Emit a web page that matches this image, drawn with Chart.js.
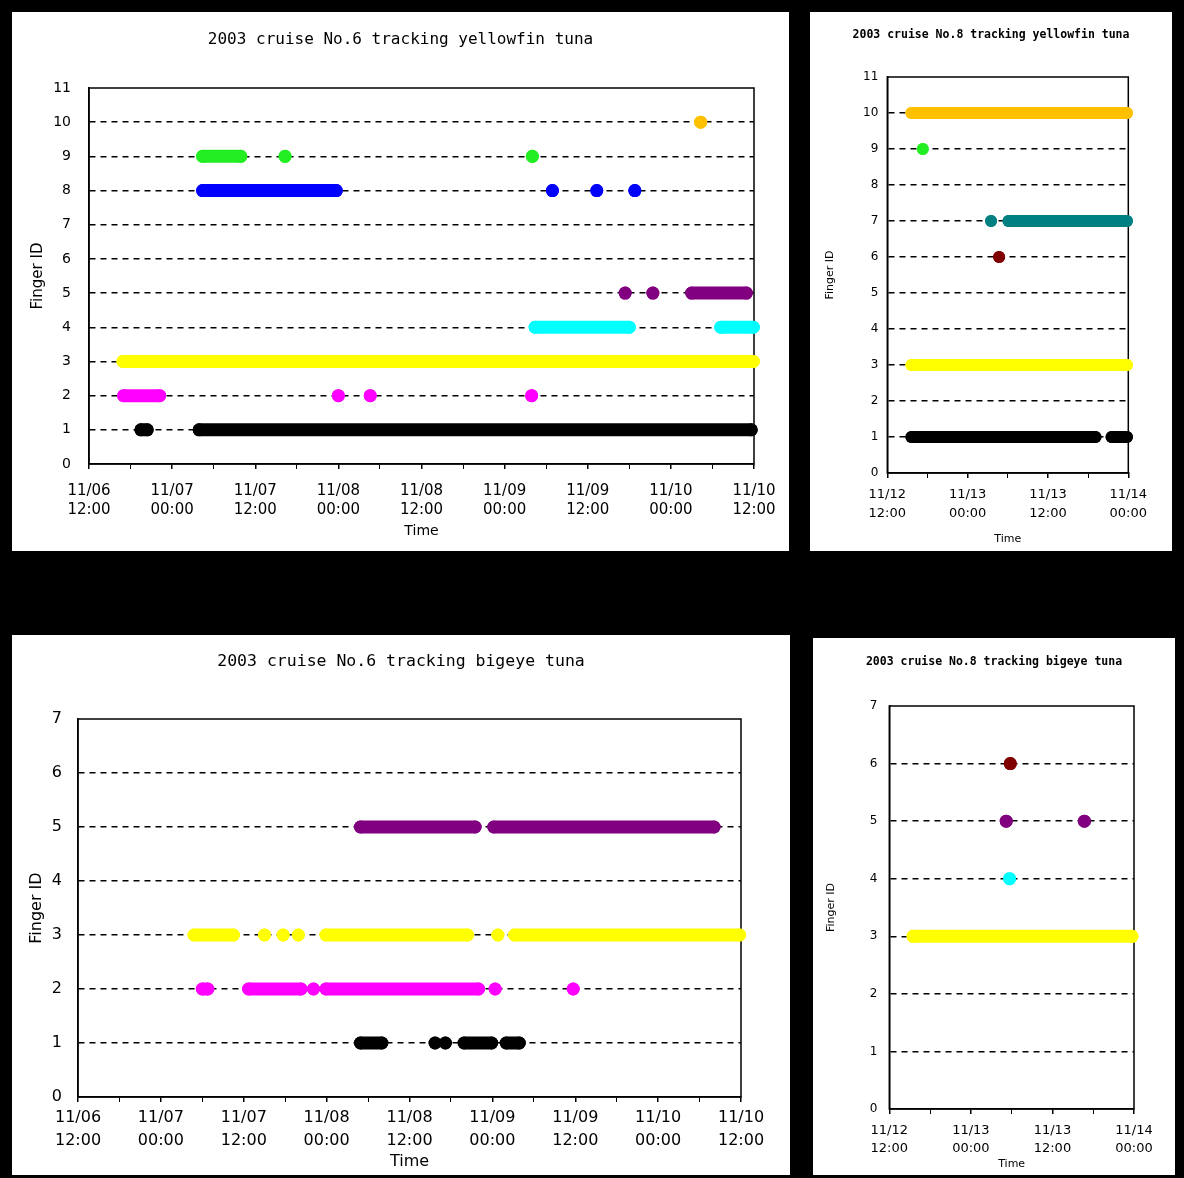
<!DOCTYPE html>
<html>
<head>
<meta charset="utf-8">
<script src="https://cdn.jsdelivr.net/npm/chart.js@4.4.0/dist/chart.umd.min.js"></script>
<style>
  body { margin: 0; background: #000; width: 1184px; height: 1178px; position: relative; overflow: hidden; }
  .panel { position: absolute; background: #fff; }
  canvas { display: block; }
</style>
</head>
<body>
<div class="panel" style="left:12px;top:12px;width:777px;height:539px"><canvas id="yf6" width="777" height="539"></canvas></div>
<div class="panel" style="left:810px;top:12px;width:362px;height:539px"><canvas id="yf8" width="362" height="539"></canvas></div>
<div class="panel" style="left:12px;top:635px;width:778px;height:540px"><canvas id="be6" width="778" height="540"></canvas></div>
<div class="panel" style="left:813px;top:638px;width:362px;height:537px"><canvas id="be8" width="362" height="537"></canvas></div>
<script>
// hours since 11/06 12:00 (cruise No.6) or 11/12 12:00 (cruise No.8)
// each entry is one detection run [first, last]; a single detection has first == last

// cruise No.6, yellowfin
const yf6Finger1 = [[7.5, 8.4], [15.9, 95.6]];
const yf6Finger2 = [[5.0, 10.2], [36.0, 36.0], [40.6, 40.6], [63.9, 63.9]];
const yf6Finger3 = [[4.9, 95.9]];
const yf6Finger4 = [[64.4, 78.0], [91.2, 95.9]];
const yf6Finger5 = [[77.4, 77.4], [81.4, 81.4], [87.0, 94.9]];
const yf6Finger8 = [[16.4, 35.7], [66.9, 66.9], [73.3, 73.3], [78.8, 78.8]];
const yf6Finger9 = [[16.4, 21.9], [28.3, 28.3], [64.0, 64.0]];
const yf6Finger10 = [[88.3, 88.3]];

// cruise No.8, yellowfin
const yf8Finger1 = [[3.6, 31.1], [33.5, 35.8]];
const yf8Finger3 = [[3.6, 35.8]];
const yf8Finger6 = [[16.7, 16.7]];
const yf8Finger7 = [[15.5, 15.5], [18.1, 35.8]];
const yf8Finger9 = [[5.3, 5.3]];
const yf8Finger10 = [[3.6, 35.8]];

// cruise No.6, bigeye
const be6Finger1 = [[40.9, 44.0], [51.7, 51.7], [53.2, 53.2], [55.9, 59.9], [62.0, 63.9]];
const be6Finger2 = [[18.0, 18.8], [24.7, 32.3], [34.1, 34.1], [35.9, 58.0], [60.4, 60.4], [71.7, 71.7]];
const be6Finger3 = [[16.8, 22.5], [27.0, 27.0], [29.7, 29.7], [31.9, 31.9], [35.9, 56.4], [60.8, 60.8], [63.2, 95.8]];
const be6Finger5 = [[40.9, 57.5], [60.2, 92.1]];

// cruise No.8, bigeye
const be8Finger3 = [[3.5, 35.7]];
const be8Finger4 = [[17.7, 17.7]];
const be8Finger5 = [[17.2, 17.2], [28.7, 28.7]];
const be8Finger6 = [[17.8, 17.8]];

const fingerColors = {
  1: '#000000', 2: '#ff00ff', 3: '#ffff00', 4: '#00ffff', 5: '#800080',
  6: '#800000', 7: '#008080', 8: '#0000ff', 9: '#22ee22', 10: '#ffc000'
};

const SANS = 'DejaVu Sans';
const MONO = 'DejaVu Sans Mono';
Chart.defaults.font.family = SANS;
Chart.defaults.color = '#000';

function pad2(n) { return String(n).padStart(2, '0'); }

function timeLabel(startDay, hours) {
  const t = 12 + hours;
  const day = startDay + Math.floor(t / 24);
  return ['11/' + pad2(day), pad2(t % 24) + ':00'];
}

function runsToPoints(finger, runs) {
  const pts = [];
  runs.forEach((r, i) => {
    if (i > 0) pts.push({ x: r[0], y: null });
    pts.push({ x: r[0], y: finger });
    if (r[1] !== r[0]) pts.push({ x: r[1], y: finger });
  });
  return pts;
}

// box round the plot area
const frame = {
  id: 'frame',
  beforeDatasetsDraw(chart) {
    const { ctx, chartArea: a } = chart;
    ctx.save();
    ctx.strokeStyle = '#000';
    ctx.lineWidth = 1.5;
    ctx.strokeRect(a.left, a.top, a.right - a.left, a.bottom - a.top);
    ctx.restore();
  }
};

function makeChart(id, o) {
  new Chart(document.getElementById(id), {
    type: 'scatter',
    data: {
      datasets: o.series.map(([finger, runs]) => ({
        label: 'Finger ' + finger,
        data: runsToPoints(finger, runs),
        showLine: true,
        borderColor: fingerColors[finger],
        backgroundColor: fingerColors[finger],
        borderWidth: o.dot * 2,
        borderCapStyle: 'round',
        pointRadius: o.dot,
        pointHoverRadius: o.dot,
        pointBorderWidth: 0,
        clip: false
      }))
    },
    options: {
      responsive: false,
      animation: false,
      events: [],
      layout: { padding: 0 },
      plugins: {
        legend: { display: false },
        tooltip: { enabled: false },
        title: {
          display: true, text: o.title, color: '#000',
          font: { family: MONO, size: o.titleSize, weight: o.titleWeight },
          padding: { top: o.titlePadTop, bottom: o.titlePadBottom }
        }
      },
      scales: {
        x: {
          type: 'linear', min: 0, max: o.xMax,
          afterFit: s => { s.height = o.xHeight; },
          ticks: {
            stepSize: 6, autoSkip: false, maxRotation: 0, color: '#000',
            font: { size: o.xTickSize, lineHeight: o.xTickLine },
            padding: o.xTickPad,
            callback: v => (v % 12 === 0 ? timeLabel(o.startDay, v) : '')
          },
          grid: {
            drawOnChartArea: false, tickLength: 5, color: '#000',
            lineWidth: c => (c.tick && c.tick.value % 12 === 0 ? 1.5 : 1)
          },
          border: { color: '#000', width: 1.5 },
          title: {
            display: true, text: 'Time', color: '#000',
            font: { size: o.xTitleSize },
            padding: { top: 0, bottom: o.xTitlePad }
          }
        },
        y: {
          min: 0, max: o.yMax,
          afterFit: s => { s.width = o.yWidth; },
          ticks: { stepSize: 1, color: '#000', font: { size: o.yTickSize }, padding: o.yTickPad },
          grid: {
            drawTicks: false, lineWidth: 1.5,
            color: c => (c.tick && c.tick.value > 0 && c.tick.value < o.yMax ? '#000' : 'rgba(0,0,0,0)')
          },
          border: { color: '#000', width: 1.5, dash: [6, 5] },
          title: {
            display: true, text: 'Finger ID', color: '#000',
            font: { size: o.yTitleSize },
            padding: { top: o.yTitlePad, bottom: 0 }
          }
        },
        // empty right-hand margin, so the title stays centred on the whole panel
        spacer: {
          position: 'right', display: true,
          afterFit: s => { s.width = o.padRight; },
          grid: { display: false }, border: { display: false }, ticks: { display: false }
        }
      }
    },
    plugins: [frame]
  });
}

makeChart('yf6', {
  title: '2003 cruise No.6 tracking yellowfin tuna', titleSize: 16, titleWeight: 'normal', titlePadTop: 18.4, titlePadBottom: 38.4,
  xMax: 96, yMax: 11, startDay: 6, yWidth: 77, xHeight: 87, padRight: 35, dot: 6.5,
  xTickSize: 15, xTickLine: 1.3, xTickPad: 12, yTickSize: 14, yTickPad: 18,
  yTitleSize: 15, yTitlePad: 17, xTitleSize: 14, xTitlePad: 11.6,
  series: [[1, yf6Finger1], [2, yf6Finger2], [3, yf6Finger3], [4, yf6Finger4], [5, yf6Finger5],
           [8, yf6Finger8], [9, yf6Finger9], [10, yf6Finger10]]
});

makeChart('yf8', {
  title: '2003 cruise No.8 tracking yellowfin tuna', titleSize: 11.5, titleWeight: 'bold', titlePadTop: 16.1, titlePadBottom: 35.1,
  xMax: 36, yMax: 11, startDay: 12, yWidth: 77.3, xHeight: 78, padRight: 43.7, dot: 6,
  xTickSize: 13, xTickLine: 1.45, xTickPad: 6.9, yTickSize: 12, yTickPad: 9,
  yTitleSize: 11, yTitlePad: 13.4, xTitleSize: 11, xTitlePad: 5.4,
  series: [[1, yf8Finger1], [3, yf8Finger3], [6, yf8Finger6], [7, yf8Finger7], [9, yf8Finger9], [10, yf8Finger10]]
});

makeChart('be6', {
  title: '2003 cruise No.6 tracking bigeye tuna', titleSize: 16.5, titleWeight: 'normal', titlePadTop: 17.1, titlePadBottom: 47.1,
  xMax: 96, yMax: 7, startDay: 6, yWidth: 66, xHeight: 78, padRight: 49, dot: 6.5,
  xTickSize: 16, xTickLine: 1.4, xTickPad: 4.8, yTickSize: 16, yTickPad: 16,
  yTitleSize: 16, yTitlePad: 15.4, xTitleSize: 16, xTitlePad: 3.4,
  series: [[1, be6Finger1], [2, be6Finger2], [3, be6Finger3], [5, be6Finger5]]
});

makeChart('be8', {
  title: '2003 cruise No.8 tracking bigeye tuna', titleSize: 11.5, titleWeight: 'bold', titlePadTop: 17.1, titlePadBottom: 37.1,
  xMax: 36, yMax: 7, startDay: 12, yWidth: 76.3, xHeight: 66, padRight: 41, dot: 6.5,
  xTickSize: 13, xTickLine: 1.4, xTickPad: 7.25, yTickSize: 12, yTickPad: 12,
  yTitleSize: 11, yTitlePad: 11.4, xTitleSize: 11, xTitlePad: 3.9,
  series: [[3, be8Finger3], [4, be8Finger4], [5, be8Finger5], [6, be8Finger6]]
});
</script>
</body>
</html>
